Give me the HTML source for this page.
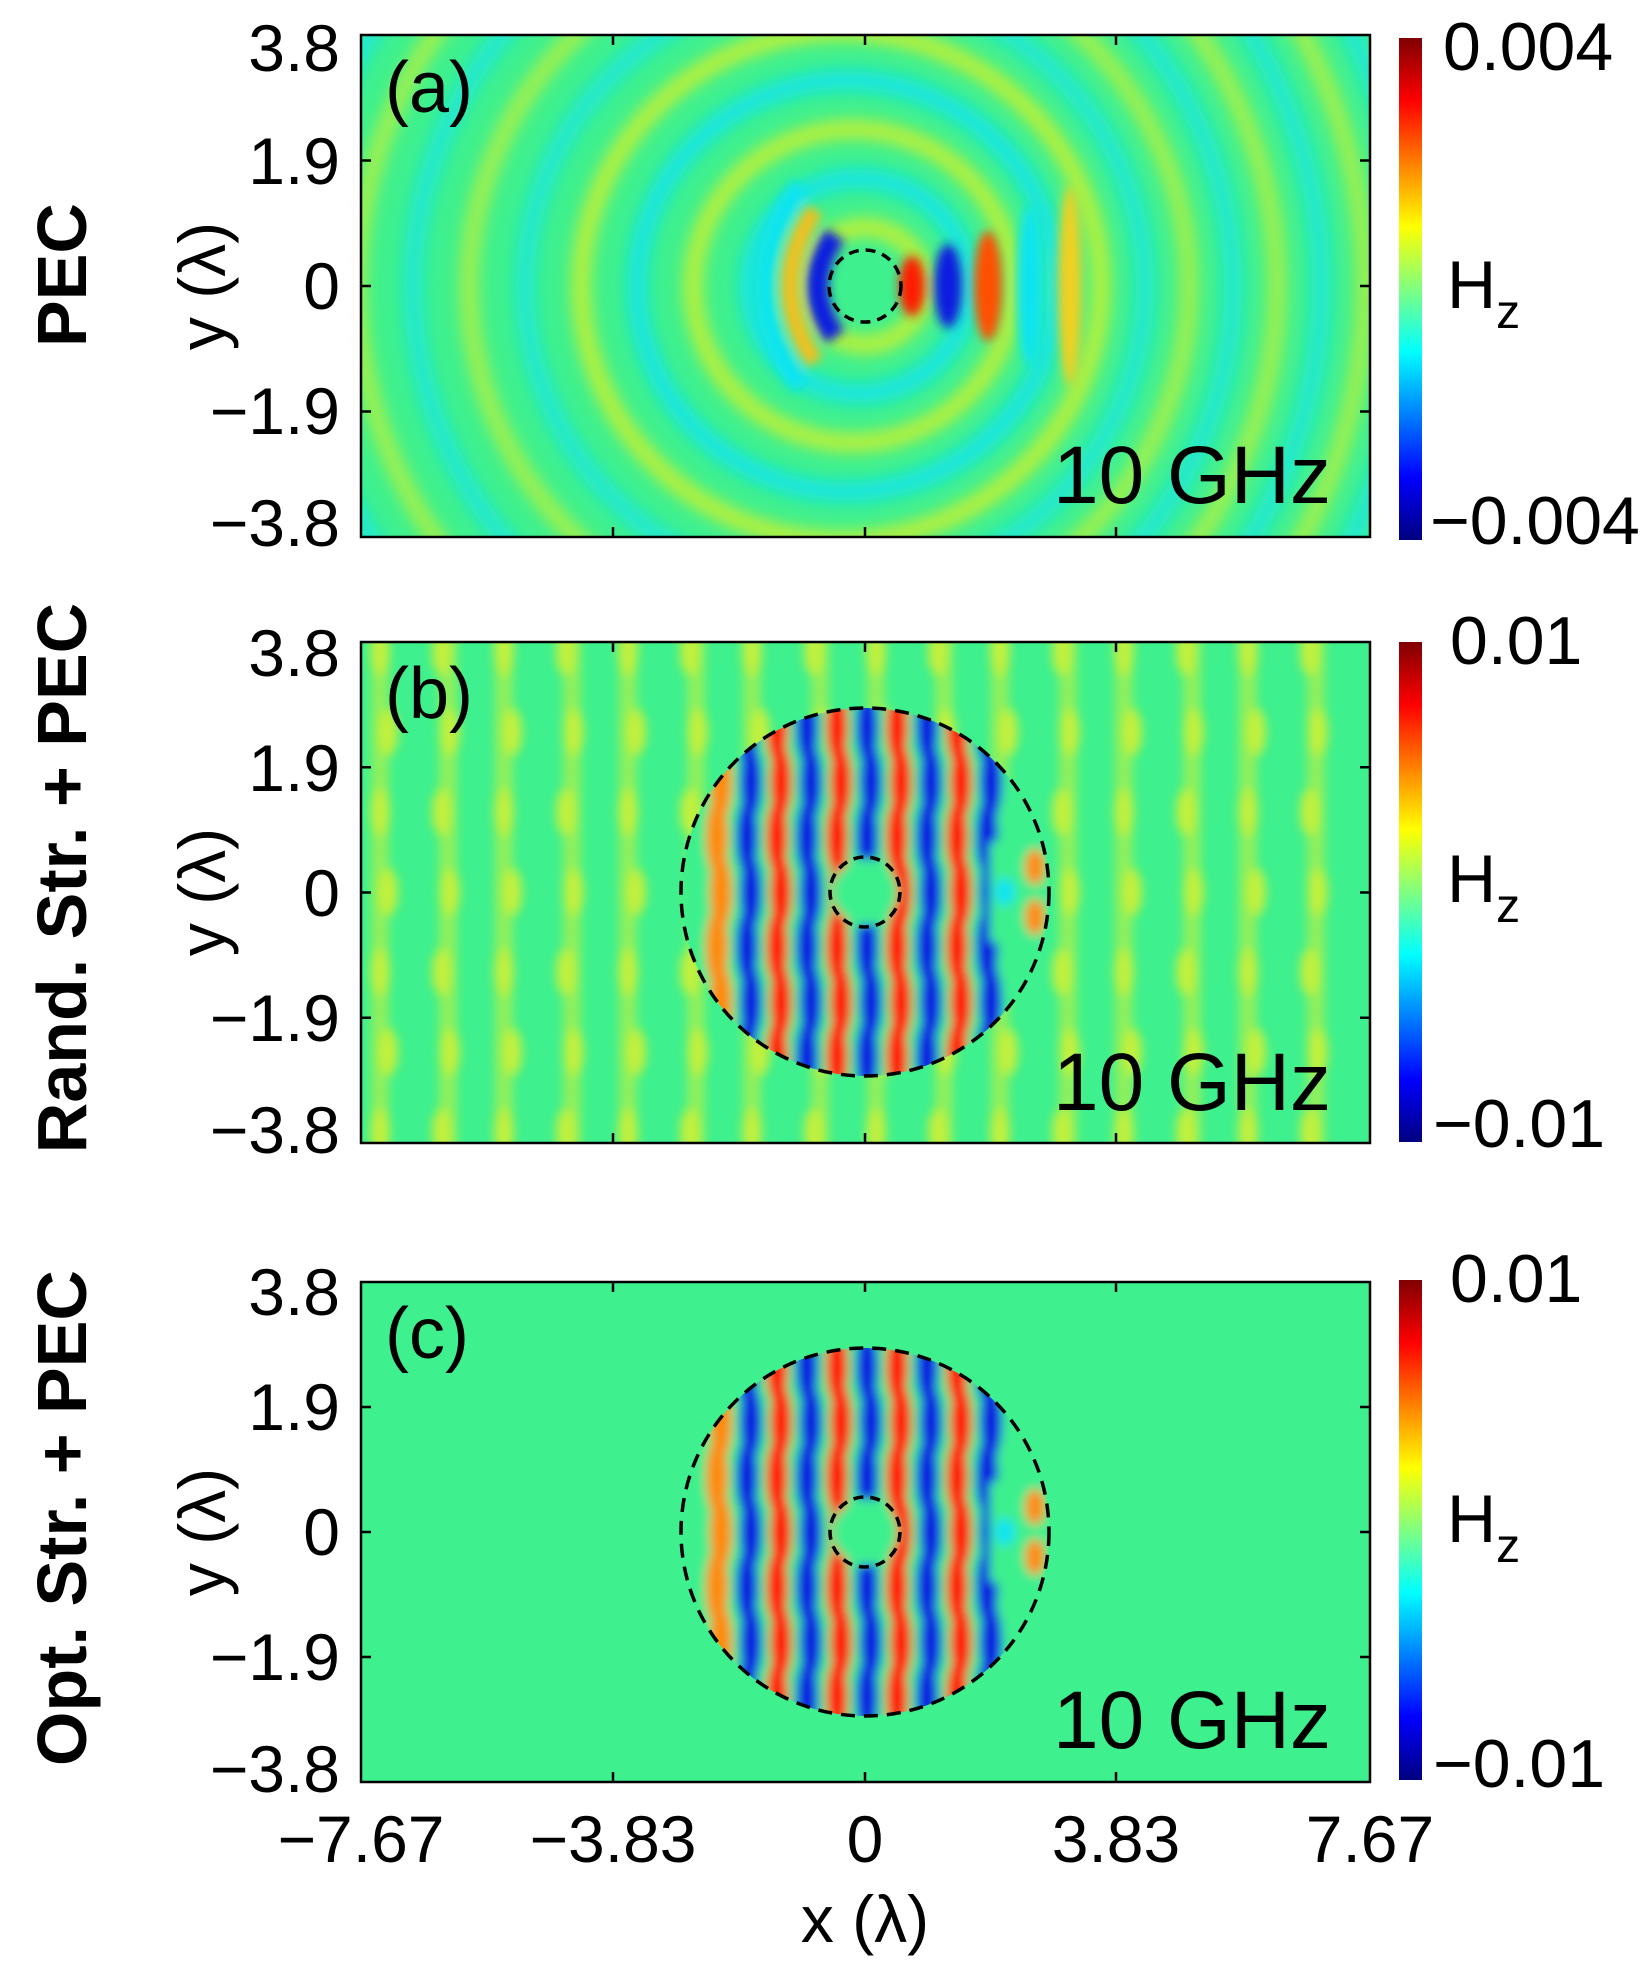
<!DOCTYPE html>
<html><head><meta charset="utf-8"><style>
body{margin:0;background:#fff}
svg{display:block}
text{font-family:"Liberation Sans",Arial,sans-serif;fill:#000}
</style></head><body>
<svg id="s" width="1647" height="1963" viewBox="0 0 1647 1963" xmlns="http://www.w3.org/2000/svg">
<defs>
<linearGradient id="jet" x1="0" y1="0" x2="0" y2="1">
<stop offset="0" stop-color="#800000"/><stop offset="0.125" stop-color="#ff0000"/><stop offset="0.375" stop-color="#ffff00"/><stop offset="0.5" stop-color="#80ff80"/><stop offset="0.625" stop-color="#00ffff"/><stop offset="0.875" stop-color="#0000ff"/><stop offset="1" stop-color="#000080"/>
</linearGradient>
<filter id="bl" x="-20%" y="-20%" width="140%" height="140%"><feGaussianBlur stdDeviation="5"/></filter>
<filter id="bl2" x="-20%" y="-20%" width="140%" height="140%"><feGaussianBlur stdDeviation="8"/></filter>
<clipPath id="ca"><rect x="361" y="35" width="1009" height="502"/></clipPath>
<clipPath id="cb"><rect x="361" y="642" width="1009" height="501"/></clipPath>
<clipPath id="cc"><rect x="361" y="1282" width="1009" height="500"/></clipPath>
<clipPath id="cib"><circle cx="865" cy="892" r="184"/></clipPath>
<clipPath id="cic"><circle cx="865" cy="1532" r="184"/></clipPath>
</defs>
<g id="pa" clip-path="url(#ca)"><rect x="361" y="35" width="1009" height="502" fill="#3ef08e"/></g>
<g id="pb" clip-path="url(#cb)"><rect x="361" y="642" width="1009" height="501" fill="#3ef08e"/></g>
<g id="pc" clip-path="url(#cc)"><rect x="361" y="1282" width="1009" height="500" fill="#3ef08e"/></g>
<g id="ax" fill="none" stroke="#000" stroke-width="2.5">
<rect x="361" y="35" width="1009" height="502"/>
<rect x="361" y="642" width="1009" height="501"/>
<rect x="361" y="1282" width="1009" height="500"/>
<circle cx="865" cy="286" r="36" stroke-dasharray="10,7" stroke-width="3.5"/>
<circle cx="865" cy="892" r="35" stroke-dasharray="10,7" stroke-width="3.5"/>
<circle cx="865" cy="892" r="184" stroke-dasharray="14,9" stroke-width="3.5"/>
<circle cx="865" cy="1532" r="35" stroke-dasharray="10,7" stroke-width="3.5"/>
<circle cx="865" cy="1532" r="184" stroke-dasharray="14,9" stroke-width="3.5"/>
</g>
<rect x="1399" y="38" width="23" height="502" fill="url(#jet)"/>
<rect x="1399" y="642" width="23" height="500" fill="url(#jet)"/>
<rect x="1399" y="1280" width="23" height="500" fill="url(#jet)"/>
<g font-size="66" text-anchor="end">
<text x="340" y="71">3.8</text><text x="340" y="184">1.9</text><text x="340" y="309">0</text><text x="340" y="434">−1.9</text><text x="340" y="546">−3.8</text>
<text x="340" y="676">3.8</text><text x="340" y="791">1.9</text><text x="340" y="916">0</text><text x="340" y="1041">−1.9</text><text x="340" y="1153">−3.8</text>
<text x="340" y="1315">3.8</text><text x="340" y="1430">1.9</text><text x="340" y="1555">0</text><text x="340" y="1680">−1.9</text><text x="340" y="1792">−3.8</text>
</g>
<g font-size="66" text-anchor="middle">
<text x="361" y="1862">−7.67</text><text x="613" y="1862">−3.83</text><text x="865" y="1862">0</text><text x="1116" y="1862">3.83</text><text x="1370" y="1862">7.67</text>
<text x="865" y="1942">x (λ)</text>
<text transform="translate(225,286) rotate(-90)">y (λ)</text>
<text transform="translate(225,892) rotate(-90)">y (λ)</text>
<text transform="translate(225,1532) rotate(-90)">y (λ)</text>
</g>
<g font-size="70" font-weight="bold" text-anchor="middle">
<text transform="translate(86,275) rotate(-90)">PEC</text>
<text transform="translate(86,878) rotate(-90)">Rand. Str. + PEC</text>
<text transform="translate(86,1518) rotate(-90)">Opt. Str. + PEC</text>
</g>
<g font-size="72">
<text x="385" y="112">(a)</text><text x="385" y="718">(b)</text><text x="385" y="1358">(c)</text>
</g>
<g font-size="68">
<text x="1443" y="70">0.004</text><text x="1430" y="544">−0.004</text>
<text x="1450" y="664">0.01</text><text x="1433" y="1147">−0.01</text>
<text x="1450" y="1302">0.01</text><text x="1433" y="1787">−0.01</text>
<text x="1447" y="308">H<tspan font-size="48" dy="20">z</tspan></text>
<text x="1447" y="902">H<tspan font-size="48" dy="20">z</tspan></text>
<text x="1447" y="1542">H<tspan font-size="48" dy="20">z</tspan></text>
</g>
<g font-size="82">
<text x="1053" y="503">10 GHz</text><text x="1053" y="1110">10 GHz</text><text x="1053" y="1748">10 GHz</text>
</g>
</svg>
<script>
var NS="http://www.w3.org/2000/svg";
function el(p,t,a){var e=document.createElementNS(NS,t);for(var k in a)e.setAttribute(k,a[k]);p.appendChild(e);return e;}
var Y="#f0f020",C="#10e4f0",R="#ff1a00",B="#0a1ee0",O="#ff8a00";
var pa=document.getElementById("pa");
var ga=el(pa,"g",{filter:"url(#bl2)"});
for(var i=0;i<16;i++){var r=60+i*50;el(ga,"ellipse",{cx:865-i*6,cy:286,rx:r,ry:r*0.98,fill:"none",stroke:i%2?C:"#c8f030","stroke-width":18,opacity:i<5?0.95:0.75});}
var g2=el(pa,"g",{filter:"url(#bl)"});
el(g2,"path",{d:"M835,235 Q800,286 835,337",fill:"none",stroke:B,"stroke-width":22});
el(g2,"path",{d:"M815,210 Q765,286 815,362",fill:"none",stroke:"#f0c020","stroke-width":18});
el(g2,"path",{d:"M800,185 Q730,286 800,387",fill:"none",stroke:C,"stroke-width":18});
el(g2,"ellipse",{cx:912,cy:286,rx:13,ry:30,fill:R});
el(g2,"ellipse",{cx:948,cy:286,rx:14,ry:42,fill:B});
el(g2,"ellipse",{cx:988,cy:286,rx:14,ry:55,fill:"#ff5000"});
el(g2,"ellipse",{cx:1030,cy:286,rx:13,ry:80,fill:C});
el(g2,"ellipse",{cx:1070,cy:286,rx:12,ry:100,fill:"#f0d020"});
function bands(id,cy,clip,outer){
 var p=document.getElementById(id);
 if(outer){var go=el(p,"g",{filter:"url(#bl)",opacity:0.75});
  for(var x=380;x<1370;x+=62){el(go,"rect",{x:x-9+((x/62|0)%2)*6,y:cy-260,width:18,height:520,rx:9,fill:"#d8f030",opacity:0.7});
   for(var y=cy-240;y<cy+250;y+=80){el(go,"ellipse",{cx:x+((y/80|0)%2)*8,cy:y,rx:10,ry:24,fill:Y});}}}
 var g=el(p,"g",{"clip-path":clip});var gb=el(g,"g",{filter:"url(#bl)"});
 el(gb,"rect",{x:680,y:cy-190,width:370,height:380,fill:"#3ef08e"});
 var cols=[[717,O],[747,B],[777,R],[807,B],[837,R],[867,B],[897,R],[927,B],[957,R],[987,B]];
 cols.forEach(function(c){for(var k=-3;k<=3;k++){el(gb,"ellipse",{cx:c[0]+((k+3)%2)*4,cy:cy+k*55,rx:11,ry:38,fill:c[1]});}});
 el(gb,"circle",{cx:865,cy:cy,r:33,fill:"#3ef08e"});
 el(gb,"rect",{x:990,y:cy-50,width:60,height:100,fill:"#3ef08e"});
 el(gb,"ellipse",{cx:1035,cy:cy-25,rx:10,ry:18,fill:O});
 el(gb,"ellipse",{cx:1035,cy:cy+25,rx:10,ry:18,fill:O});
 el(gb,"ellipse",{cx:1005,cy:cy,rx:10,ry:14,fill:C});
}
bands("pb",892,"url(#cib)",true);
bands("pc",1532,"url(#cic)",false);
var ax=document.getElementById("ax");
[[35,537],[642,1143],[1282,1782]].forEach(function(p){
 [613,865,1116].forEach(function(x){el(ax,"line",{x1:x,y1:p[0],x2:x,y2:p[0]+10});el(ax,"line",{x1:x,y1:p[1],x2:x,y2:p[1]-10});});
 var c=(p[0]+p[1])/2,h=(p[1]-p[0])/4;
 [c-h,c,c+h].forEach(function(y){el(ax,"line",{x1:361,y1:y,x2:371,y2:y});el(ax,"line",{x1:1370,y1:y,x2:1360,y2:y});});
});
</script>
</body></html>
